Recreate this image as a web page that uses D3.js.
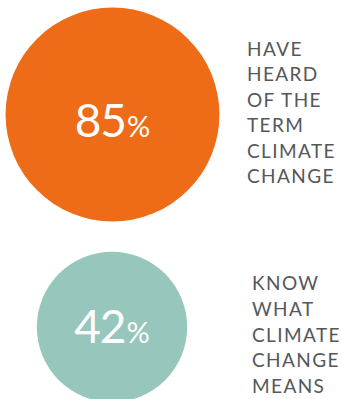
<!DOCTYPE html>
<html>
<head>
<meta charset="utf-8">
<script src="https://cdn.jsdelivr.net/npm/d3@7"></script>
<style>
  html, body { margin: 0; padding: 0; background: #fff; }
  svg { display: block; }
</style>
</head>
<body>
<svg id="chart" width="342" height="399"></svg>
<script>
const categories = ["Have heard of the term climate change", "Know what climate change means"];
const values = [85, 42];
const labelLines = [
  ["HAVE", "HEARD", "OF THE", "TERM", "CLIMATE", "CHANGE"],
  ["KNOW", "WHAT", "CLIMATE", "CHANGE", "MEANS"]
];
const colors = ["#EE6C17", "#97C7BC"];

const svg = d3.select("#chart");
const r = d3.scaleSqrt().domain([0, 100]).range([0, 116]);

// layout
const layout = [
  { cx: 112.5, cy: 114.5, lx: 247, firstBase: 56, step: 25.4 },
  { cx: 112, cy: 327, lx: 252, firstBase: 290, step: 25.75 }
];

const g = svg.selectAll("g.item")
  .data(values.map((v, i) => ({ v, i, cat: categories[i], lines: labelLines[i], color: colors[i], L: layout[i] })))
  .join("g").attr("class", "item");

g.append("circle")
  .attr("cx", d => d.L.cx)
  .attr("cy", d => d.L.cy)
  .attr("r", d => r(d.v))
  .attr("fill", d => d.color);

const num = g.append("text")
  .attr("x", d => d.L.cx)
  .attr("y", d => d.L.cy + (d.i === 0 ? 22.5 : 16))
  .attr("text-anchor", "middle")
  .attr("fill", "#fff")
  .style("font-family", "Lato, 'Open Sans', sans-serif")
  .style("font-weight", 400);
num.append("tspan").style("font-size", "46px").style("letter-spacing", "-1px").text(d => d.v);
num.append("tspan").style("font-size", "29px").attr("dx", 1).text("%");

g.each(function(d) {
  d3.select(this).selectAll("text.lbl")
    .data(d.lines)
    .join("text")
    .attr("class", "lbl")
    .attr("x", d.L.lx)
    .attr("y", (t, j) => d.L.firstBase + j * d.L.step)
    .attr("fill", "#555759")
    .style("font-family", "Lato, 'Open Sans', sans-serif")
    .style("font-size", "19px")
    .style("letter-spacing", "1.4px")
    .text(t => t);
});
</script>
</body>
</html>
